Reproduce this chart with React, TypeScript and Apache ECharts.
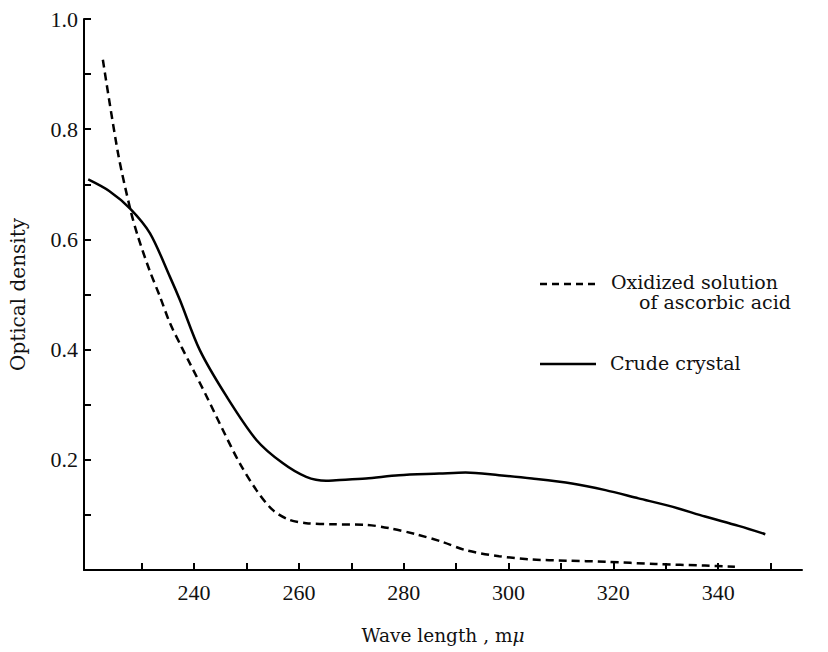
import React, { useEffect, useRef } from "react";
import * as echarts from "echarts";

// Wavelength (mμ) and optical density
const crudeWave = [219.8, 223.8, 227.8, 231.6, 235.4, 237.3, 241.1, 246.2, 251.9, 256.9, 261.4, 265.2, 267.1, 272.8, 279.1, 286.8, 291.8, 298.2, 304.5, 312.1, 318.5, 324.8, 331.2, 337.5, 343.9, 349.0];
const crudeDensity = [0.709, 0.688, 0.656, 0.611, 0.532, 0.49, 0.399, 0.315, 0.236, 0.194, 0.169, 0.162, 0.163, 0.166, 0.172, 0.175, 0.177, 0.172, 0.166, 0.157, 0.145, 0.13, 0.115, 0.097, 0.08, 0.065];

const oxidWave = [222.6, 225.5, 227.8, 229.3, 231.5, 233.5, 235.4, 237.6, 239.2, 242.4, 245.5, 248.7, 251.9, 255.0, 258.2, 261.4, 266.5, 272.8, 277.2, 282.3, 287.4, 291.8, 298.2, 304.5, 311.0, 318.5, 328.0, 337.5, 343.2];
const oxidDensity = [0.926, 0.756, 0.656, 0.605, 0.544, 0.496, 0.448, 0.405, 0.375, 0.315, 0.254, 0.194, 0.145, 0.109, 0.091, 0.085, 0.083, 0.082, 0.076, 0.065, 0.051, 0.036, 0.025, 0.019, 0.017, 0.015, 0.011, 0.008, 0.006];

const xTicks = [230, 240, 250, 260, 270, 280, 290, 300, 310, 320, 330, 340, 350];
const xLabels = [240, 260, 280, 300, 320, 340];
const yTicks = [0.1, 0.2, 0.3, 0.4, 0.5, 0.6, 0.7, 0.8, 0.9, 1.0];
const yLabels = [0.2, 0.4, 0.6, 0.8, 1.0];

const seriesNames = ["Oxidized solution", "of ascorbic acid", "Crude crystal"];

const serif = "'DejaVu Serif', 'Liberation Serif', serif";
const numFont = "'Liberation Serif', serif";

export default function App() {
  const ref = useRef<HTMLDivElement>(null);
  useEffect(() => {
    if (!ref.current) return;
    const chart = echarts.init(ref.current, null, { renderer: "svg" });
    const pairs = (xs: number[], ys: number[]) => xs.map((x, i) => [x, ys[i]]);
    chart.setOption({
      animation: false,
      backgroundColor: "#fff",
      grid: { left: 83, right: 26, top: 19, bottom: 82 },
      xAxis: {
        type: "value",
        min: 219,
        max: 356,
        name: "Wave length , m{i|μ}",
        nameLocation: "middle",
        nameGap: 56,
        nameTextStyle: {
          fontFamily: serif,
          fontSize: 18.5,
          color: "#111",
          rich: { i: { fontFamily: serif, fontSize: 18.5, fontStyle: "italic", color: "#111" } },
        },
        axisLine: { show: true, onZero: false, lineStyle: { color: "#000", width: 2 } },
        axisTick: { show: true, inside: true, length: 7, customValues: xTicks, lineStyle: { color: "#000", width: 2 } },
        axisLabel: { customValues: xLabels, fontFamily: numFont, fontSize: 22, color: "#111", margin: 11 },
        splitLine: { show: false },
      },
      yAxis: {
        type: "value",
        min: 0,
        max: 1,
        name: "Optical density",
        nameLocation: "middle",
        nameGap: 56,
        nameRotate: 90,
        nameTextStyle: { fontFamily: serif, fontSize: 20, color: "#111" },
        axisLine: { show: true, lineStyle: { color: "#000", width: 2 } },
        axisTick: { show: true, inside: true, length: 7, customValues: yTicks, lineStyle: { color: "#000", width: 2 } },
        axisLabel: {
          customValues: yLabels,
          formatter: (v: number) => v.toFixed(1),
          fontFamily: numFont,
          fontSize: 22,
          color: "#111",
          margin: 6,
        },
        splitLine: { show: false },
      },
      series: [
        {
          name: "Oxidized solution of ascorbic acid",
          type: "line",
          data: pairs(oxidWave, oxidDensity),
          smooth: 0.3,
          symbol: "none",
          lineStyle: { color: "#000", width: 2.5, type: [8, 5] },
        },
        {
          name: "Crude crystal",
          type: "line",
          data: pairs(crudeWave, crudeDensity),
          smooth: 0.3,
          symbol: "none",
          lineStyle: { color: "#000", width: 2.5 },
        },
      ],
      graphic: [
        { type: "line", shape: { x1: 540, y1: 284, x2: 596, y2: 284 }, style: { stroke: "#000", lineWidth: 2.5, lineDash: [7, 5] } },
        { type: "text", left: 611, top: 272, style: { text: seriesNames[0], font: `19px ${serif}`, fill: "#111" } },
        { type: "text", left: 639, top: 292, style: { text: seriesNames[1], font: `19px ${serif}`, fill: "#111" } },
        { type: "line", shape: { x1: 540, y1: 364, x2: 596, y2: 364 }, style: { stroke: "#000", lineWidth: 2.5 } },
        { type: "text", left: 610, top: 353, style: { text: seriesNames[2], font: `19px ${serif}`, fill: "#111" } },
      ],
    });
    return () => chart.dispose();
  }, []);
  return <div ref={ref} style={{ position: "absolute", left: 0, top: 0, width: 828, height: 652 }} />;
}
